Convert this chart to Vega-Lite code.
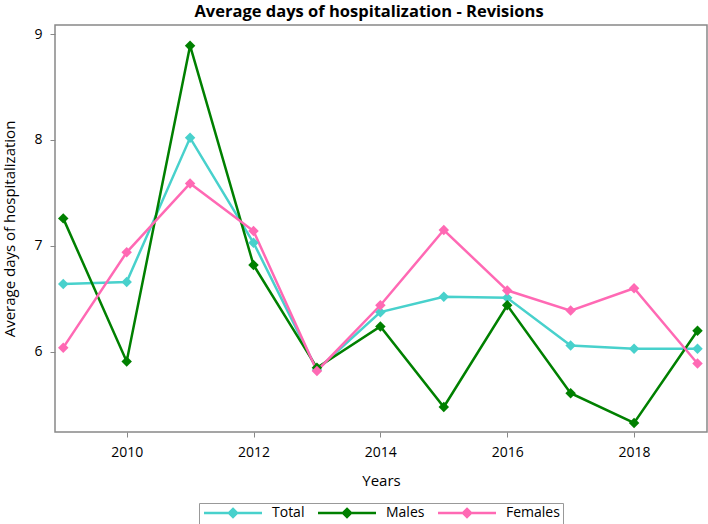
{
  "$schema": "https://vega.github.io/schema/vega-lite/v6.json",
  "autosize": "none",
  "width": 652,
  "height": 407,
  "padding": {"left": 55, "top": 25, "right": 1, "bottom": 92},
  "background": "white",
  "title": {
    "text": "Average days of hospitalization - Revisions",
    "font": "Open Sans",
    "fontSize": 16.5,
    "fontWeight": "bold",
    "color": "black",
    "anchor": "middle",
    "offset": 5,
    "dx": -12
  },
  "data": {
    "values": [
      {"year": 2009, "series": "Total", "value": 6.64},
      {"year": 2010, "series": "Total", "value": 6.66},
      {"year": 2011, "series": "Total", "value": 8.02},
      {"year": 2012, "series": "Total", "value": 7.03},
      {"year": 2013, "series": "Total", "value": 5.83},
      {"year": 2014, "series": "Total", "value": 6.375},
      {"year": 2015, "series": "Total", "value": 6.52},
      {"year": 2016, "series": "Total", "value": 6.51},
      {"year": 2017, "series": "Total", "value": 6.06},
      {"year": 2018, "series": "Total", "value": 6.03},
      {"year": 2019, "series": "Total", "value": 6.03},
      {"year": 2009, "series": "Males", "value": 7.26},
      {"year": 2010, "series": "Males", "value": 5.91},
      {"year": 2011, "series": "Males", "value": 8.89},
      {"year": 2012, "series": "Males", "value": 6.82},
      {"year": 2013, "series": "Males", "value": 5.85},
      {"year": 2014, "series": "Males", "value": 6.24},
      {"year": 2015, "series": "Males", "value": 5.48},
      {"year": 2016, "series": "Males", "value": 6.44},
      {"year": 2017, "series": "Males", "value": 5.61},
      {"year": 2018, "series": "Males", "value": 5.33},
      {"year": 2019, "series": "Males", "value": 6.2},
      {"year": 2009, "series": "Females", "value": 6.04},
      {"year": 2010, "series": "Females", "value": 6.94},
      {"year": 2011, "series": "Females", "value": 7.59},
      {"year": 2012, "series": "Females", "value": 7.14},
      {"year": 2013, "series": "Females", "value": 5.82},
      {"year": 2014, "series": "Females", "value": 6.44},
      {"year": 2015, "series": "Females", "value": 7.15},
      {"year": 2016, "series": "Females", "value": 6.58},
      {"year": 2017, "series": "Females", "value": 6.39},
      {"year": 2018, "series": "Females", "value": 6.6},
      {"year": 2019, "series": "Females", "value": 5.89}
    ]
  },
  "mark": {
    "type": "line",
    "strokeWidth": 2.5,
    "point": {"shape": "diamond", "size": 110, "filled": true, "opacity": 1}
  },
  "encoding": {
    "x": {
      "field": "year",
      "type": "quantitative",
      "title": "Years",
      "scale": {"domain": [2008.87, 2019.15], "nice": false, "zero": false},
      "axis": {
        "values": [2010, 2012, 2014, 2016, 2018],
        "format": "d",
        "grid": false,
        "domain": false,
        "tickColor": "#888",
        "tickSize": 5,
        "labelPadding": 8,
        "titlePadding": 14
      }
    },
    "y": {
      "field": "value",
      "type": "quantitative",
      "title": "Average days of hospitalization",
      "scale": {"domain": [5.244, 9.085], "nice": false, "zero": false},
      "axis": {
        "values": [6, 7, 8, 9],
        "grid": false,
        "domain": false,
        "tickColor": "#888",
        "tickSize": 5,
        "labelPadding": 8,
        "titlePadding": 16
      }
    },
    "color": {
      "field": "series",
      "type": "nominal",
      "scale": {
        "domain": ["Total", "Males", "Females"],
        "range": ["#48D1CC", "#008000", "#FF69B4"]
      },
      "legend": {
        "title": null,
        "orient": "none",
        "direction": "horizontal",
        "columns": 3,
        "legendX": 144,
        "legendY": 478,
        "symbolType": "M-1,0H10.6M4.8,-0.8L5.6,0L4.8,0.8L4,0Z",
        "symbolSize": 100,
        "symbolStrokeWidth": 2.5,
        "labelOffset": 56,
        "columnPadding": 8,
        "padding": 3,
        "strokeColor": "#999",
        "encode": {
          "symbols": {"update": {"fill": {"scale": "color", "field": "value"}, "opacity": {"value": 1}}}
        }
      }
    }
  },
  "config": {
    "font": "Open Sans",
    "view": {"stroke": "#888", "strokeWidth": 1.5},
    "axis": {
      "labelFont": "Open Sans",
      "labelFontSize": 14,
      "labelColor": "black",
      "titleFont": "Open Sans",
      "titleFontSize": 15,
      "titleFontWeight": "normal",
      "titleColor": "black"
    },
    "legend": {
      "labelFont": "Open Sans",
      "labelFontSize": 14,
      "labelColor": "black"
    }
  }
}
